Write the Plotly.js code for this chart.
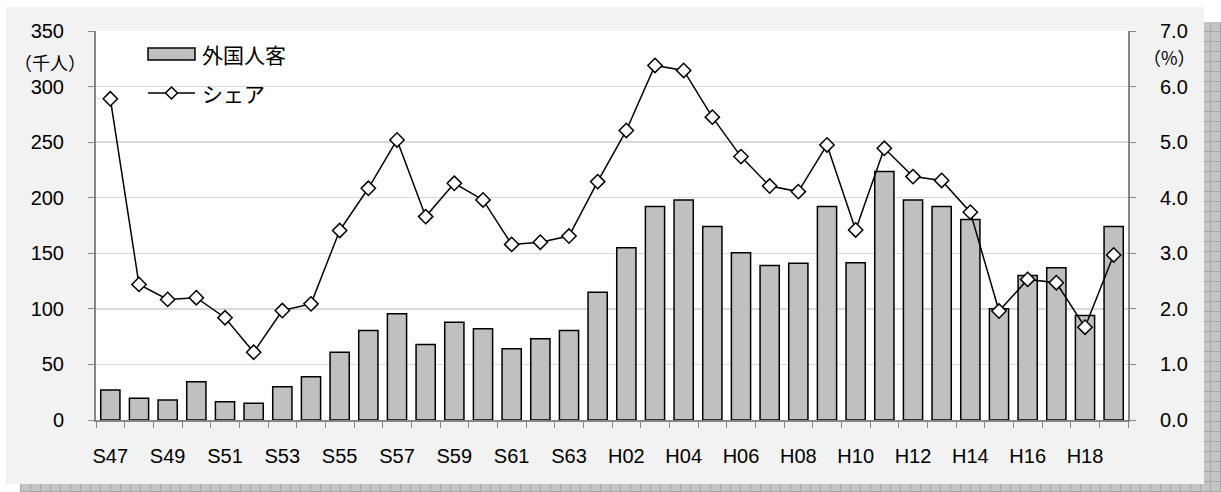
<!DOCTYPE html>
<html>
<head>
<meta charset="utf-8">
<script src="https://cdn.plot.ly/plotly-3.0.1.min.js"></script>
<style>
  html, body { margin: 0; padding: 0; background: #ffffff; }
  #wrap { position: relative; width: 1221px; height: 492px; overflow: hidden; }
  #shadow {
    position: absolute; left: 20px; top: 22px; width: 1201px; height: 470px;
    background-color: #c4c4c4;
    background-image:
      repeating-linear-gradient(0deg, #a8a8a8 0px, #a8a8a8 1px, transparent 1px, transparent 10px),
      repeating-linear-gradient(90deg, #a8a8a8 0px, #a8a8a8 1px, transparent 1px, transparent 10px);
  }
  #chart { position: absolute; left: 6px; top: 7px; width: 1198px; height: 477px; }
</style>
</head>
<body>
<div id="wrap">
  <div id="shadow"></div>
  <div id="chart"></div>
</div>
<script>
// Fiscal years (Showa 47 .. Heisei 19)
const years = [
  'S47','S48','S49','S50','S51','S52','S53','S54','S55','S56','S57','S58',
  'S59','S60','S61','S62','S63','H01','H02','H03','H04','H05','H06','H07',
  'H08','H09','H10','H11','H12','H13','H14','H15','H16','H17','H18','H19'
];

// Axis labels shown on every other year
const yearLabels = [
  'S47','','S49','','S51','','S53','','S55','','S57','',
  'S59','','S61','','S63','','H02','','H04','','H06','',
  'H08','','H10','','H12','','H14','','H16','','H18',''
];

// Foreign visitors (thousand people)
const foreignVisitors = [
  27, 19.5, 18, 34.5, 16.5, 15, 30, 39, 61, 80.5, 95.5, 68,
  88, 82, 64, 73, 80.5, 115, 155, 192, 198, 174, 150.5, 139,
  141, 192, 141.5, 223.5, 198, 192, 180.5, 100, 130, 137, 94, 174
];

// Share of foreign visitors (%)
const share = [
  5.78, 2.44, 2.17, 2.20, 1.84, 1.22, 1.97, 2.09, 3.41, 4.17, 5.04, 3.66,
  4.26, 3.96, 3.16, 3.20, 3.31, 4.29, 5.21, 6.38, 6.29, 5.45, 4.74, 4.21,
  4.11, 4.95, 3.42, 4.89, 4.38, 4.31, 3.74, 1.96, 2.53, 2.47, 1.67, 2.97
];

const seriesNames = ['外国人客', 'シェア'];

const FONT = 'Liberation Sans, Arial, "Noto Sans CJK JP", sans-serif';
const CJK = '"Noto Sans CJK JP", sans-serif';

const traces = [
  {
    type: 'bar',
    name: seriesNames[0],
    x: years,
    y: foreignVisitors,
    marker: { color: '#c0c0c0', line: { color: '#000000', width: 1.5 } },
    hoverinfo: 'x+y'
  },
  {
    type: 'scatter',
    mode: 'lines+markers',
    name: seriesNames[1],
    x: years,
    y: share,
    yaxis: 'y2',
    line: { color: '#000000', width: 1.5 },
    marker: { symbol: 'diamond', size: 11, color: '#ffffff', line: { color: '#000000', width: 1.5 } },
    hoverinfo: 'x+y'
  }
];

// Legend drawn in the upper-left corner of the plot area
const legX0 = 0.0504, legX1 = 0.0959, legMid = (legX0 + legX1) / 2;
const legYBar = 0.9408, legYLine = 0.8406;

const shapes = [
  { type: 'rect', xref: 'paper', yref: 'paper',
    x0: legX0, x1: legX1, y0: legYBar - 0.0155, y1: legYBar + 0.0155,
    fillcolor: '#c0c0c0', line: { color: '#000000', width: 1.5 } },
  { type: 'line', xref: 'paper', yref: 'paper',
    x0: legX0, x1: legX1, y0: legYLine, y1: legYLine,
    line: { color: '#000000', width: 1.5 } },
  { type: 'path', xref: 'paper', yref: 'paper',
    xsizemode: 'pixel', ysizemode: 'pixel', xanchor: legMid, yanchor: legYLine,
    path: 'M 0,6 L 6,0 L 0,-6 L -6,0 Z',
    fillcolor: '#ffffff', line: { color: '#000000', width: 1.5 } }
];

const layout = {
  width: 1198,
  height: 477,
  margin: { l: 90, r: 76, t: 24, b: 64 },
  paper_bgcolor: '#f2f2f2',
  plot_bgcolor: '#ffffff',
  font: { family: FONT, size: 20, color: '#000000' },
  bargap: 0.33,
  showlegend: false,
  xaxis: {
    type: 'category',
    range: [-0.5, years.length - 0.5],
    tickmode: 'array',
    tickvals: years,
    ticktext: yearLabels,
    tickson: 'boundaries',
    ticks: 'outside',
    ticklen: 6,
    tickcolor: '#868686',
    showgrid: false,
    showline: true,
    linecolor: '#868686',
    linewidth: 2,
    tickangle: 0,
    ticklabelstandoff: 17,
    tickfont: { family: FONT, size: 20 }
  },
  yaxis: {
    range: [0, 350],
    dtick: 50,
    tick0: 0,
    ticks: 'outside',
    ticklen: 6,
    tickcolor: '#868686',
    showline: true,
    linecolor: '#868686',
    linewidth: 2,
    showgrid: true,
    gridcolor: '#d9d9d9',
    gridwidth: 1.5,
    zeroline: false,
    ticklabelstandoff: 20,
    tickfont: { family: FONT, size: 20 }
  },
  yaxis2: {
    overlaying: 'y',
    side: 'right',
    range: [0, 7],
    dtick: 1,
    tick0: 0,
    tickformat: '.1f',
    ticks: 'outside',
    ticklen: 6,
    tickcolor: '#868686',
    showline: true,
    linecolor: '#868686',
    linewidth: 2,
    showgrid: false,
    zeroline: false,
    ticklabelstandoff: 20,
    tickfont: { family: FONT, size: 20 }
  },
  shapes: shapes,
  annotations: [
    {
      text: seriesNames[0], xref: 'paper', yref: 'paper',
      x: 0.1008, y: legYBar, xanchor: 'left', yanchor: 'middle',
      showarrow: false, font: { family: CJK, size: 21 }
    },
    {
      text: seriesNames[1], xref: 'paper', yref: 'paper',
      x: 0.1008, y: legYLine, xanchor: 'left', yanchor: 'middle',
      showarrow: false, font: { family: CJK, size: 21 }
    },
    {
      text: '（千人）', xref: 'paper', yref: 'paper',
      x: -0.081, y: 0.920, xanchor: 'left', yanchor: 'middle',
      showarrow: false, font: { family: CJK, size: 18 }
    },
    {
      text: '（%）', xref: 'paper', yref: 'paper',
      x: 1.0125, y: 0.933, xanchor: 'left', yanchor: 'middle',
      showarrow: false, font: { family: CJK, size: 18 }
    }
  ]
};

Plotly.newPlot('chart', traces, layout, { displayModeBar: false, staticPlot: true });
</script>
</body>
</html>
